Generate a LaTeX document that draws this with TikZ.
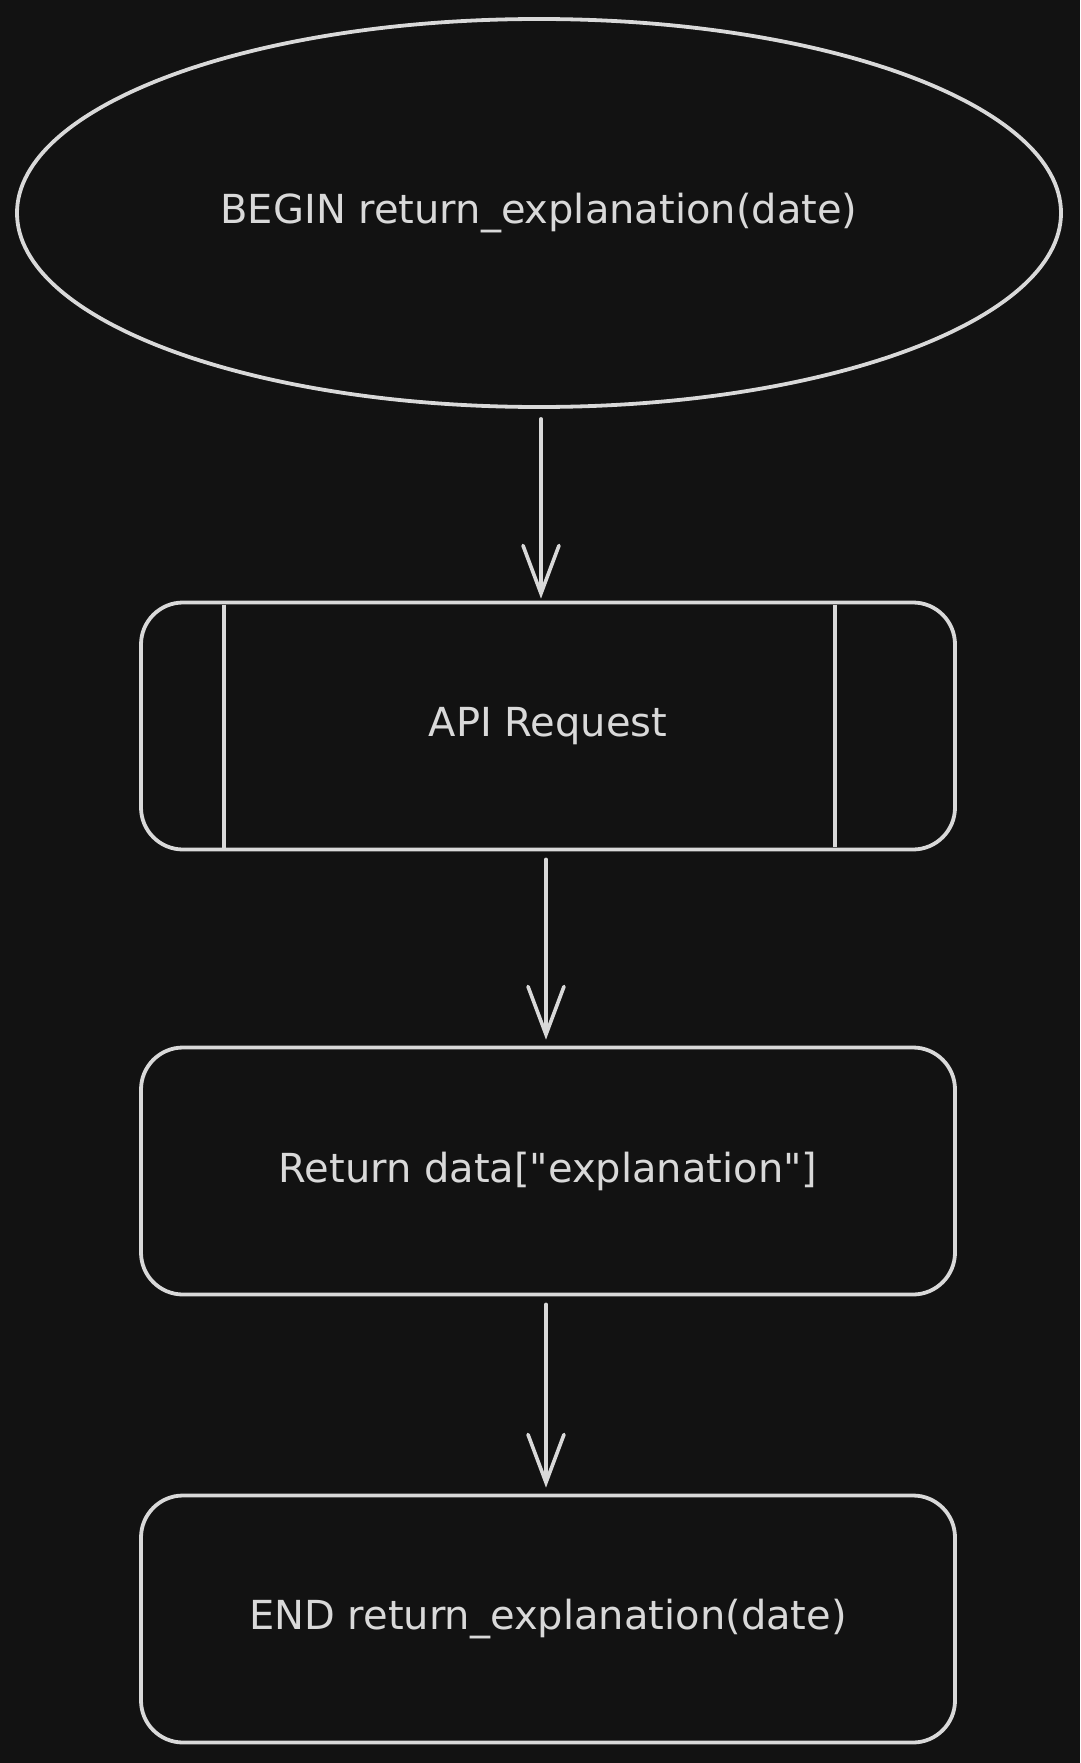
\documentclass[tikz,border=0pt]{standalone}
\usepackage{fontspec}
\setmainfont{DejaVu Sans}
\usetikzlibrary{shapes.geometric,arrows.meta}
\definecolor{bg}{HTML}{121212}
\definecolor{ink}{HTML}{D9D9D9}
\tikzset{
  shapeline/.style={draw=ink, line width=3.8pt, text=ink, font=\fontsize{40}{46}\selectfont},
  startnode/.style={shapeline, ellipse, minimum width=1044pt, minimum height=388pt, inner sep=0pt},
  procbox/.style={shapeline, rectangle, rounded corners=42pt, minimum width=814pt, minimum height=247pt, inner sep=0pt},
  arr/.style={draw=ink, line width=3.6pt, line cap=round, -{Straight Barb[length=48pt,width=36pt,line cap=round]}},
  sideline/.style={draw=ink, line width=3.6pt}
}
\begin{document}
\begin{tikzpicture}[x=1pt,y=-1pt]
\fill[bg] (0,0) rectangle (1080,1763);
\useasboundingbox (0,0) rectangle (1080,1763);
\node[startnode] (start) at (539,213) {BEGIN return\_explanation(date)};
\node[procbox] (api) at (548,726) {API Request};
\draw[sideline] ([xshift=85pt,yshift=-4pt]api.north west) -- ([xshift=85pt,yshift=2pt]api.south west);
\draw[sideline] ([xshift=-122pt,yshift=-4pt]api.north east) -- ([xshift=-122pt,yshift=4pt]api.south east);
\node[procbox] (ret) at (548,1171) {Return data[\textquotedbl explanation\textquotedbl]};
\node[procbox] (end) at (548,1619) {END return\_explanation(date)};
\draw[arr] ([xshift=2pt,yshift=-10pt]start.south) -- ([xshift=-7pt,yshift=2pt]api.north);
\draw[arr] ([xshift=-2pt,yshift=-8pt]api.south) -- ([xshift=-2pt,yshift=6pt]ret.north);
\draw[arr] ([xshift=-2pt,yshift=-8pt]ret.south) -- ([xshift=-2pt,yshift=6pt]end.north);
\end{tikzpicture}
\end{document}
